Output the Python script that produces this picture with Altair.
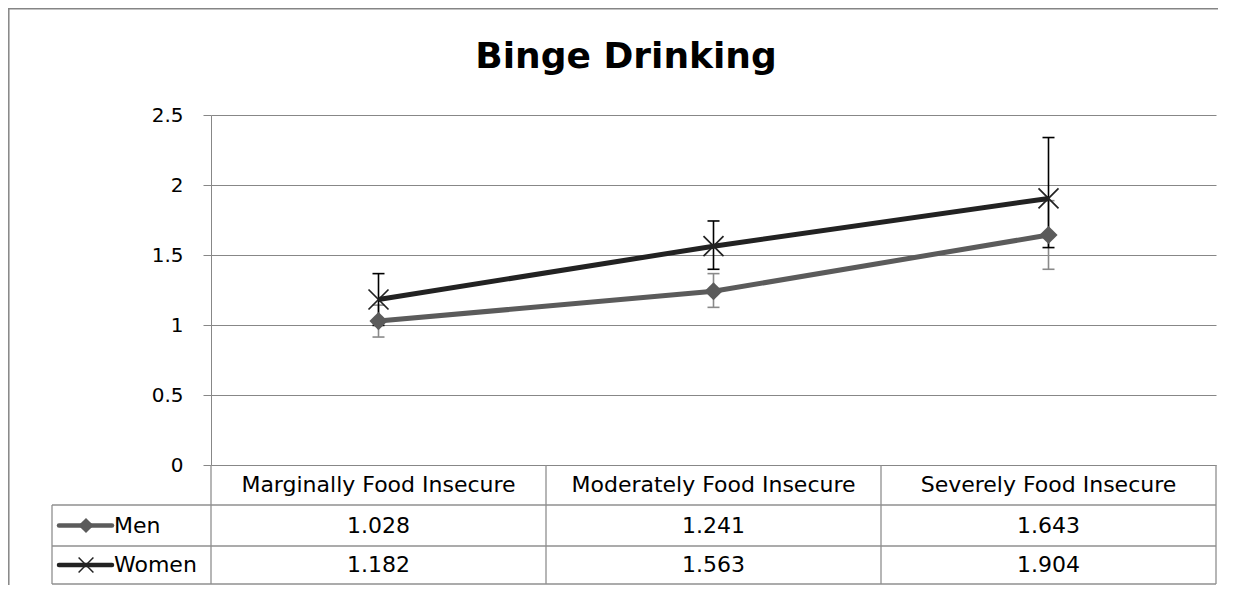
import altair as alt
import pandas as pd

# ---------------- data ----------------
title_text = "Binge Drinking"
categories = ["Marginally Food Insecure", "Moderately Food Insecure", "Severely Food Insecure"]
series = ["Men", "Women"]
men = [1.028, 1.241, 1.643]
women = [1.182, 1.563, 1.904]
men_lo = [0.914, 1.126, 1.398]
men_hi = [1.142, 1.367, 1.888]
women_lo = [0.997, 1.398, 1.553]
women_hi = [1.367, 1.743, 2.339]
y_ticks = [0, 0.5, 1, 1.5, 2, 2.5]

rows = []
for s, vals, lo, hi in [("Men", men, men_lo, men_hi), ("Women", women, women_lo, women_hi)]:
    for c, v, l, h in zip(categories, vals, lo, hi):
        rows.append({"category": c, "series": s, "value": v, "lo": l, "hi": h})
df = pd.DataFrame(rows)
cat_df = pd.DataFrame({"category": categories})
one = pd.DataFrame({"k": [0]})

# ---------------- layout / style ----------------
W, H = 1005, 350
FONT = "DejaVu Sans"
GRID = "#878787"
TABLE = "#8f8f8f"
MEN_LINE = "#5b5b5b"
WOMEN_LINE = "#222222"
MEN_ERR = "#8a8a8a"
WOMEN_ERR = "#000000"
X_PATH = "M-1,-1L1,1M-1,1L1,-1"
TFS = 22

HDR_TOP, ROW1, ROW2, TBL_BOT = H, H + 40, H + 81, H + 119
HDR_MID = (HDR_TOP + ROW1) / 2
MEN_MID = (ROW1 + ROW2) / 2
WOMEN_MID = (ROW2 + TBL_BOT) / 2
LEG_LEFT = -159

xscale = alt.Scale(type="band", domain=categories, paddingInner=0, paddingOuter=0)
yscale = alt.Scale(domain=[0, 2.5], nice=False, zero=True)
yaxis = alt.Axis(values=y_ticks, format="~g", title=None, grid=True, gridColor=GRID,
                 gridWidth=1, domainColor=GRID, domainWidth=1, tickColor=GRID, tickSize=8,
                 tickWidth=1, labelPadding=20, labelFont=FONT, labelFontSize=20,
                 labelColor="#000000")
X = alt.X("category:N", scale=xscale, axis=None, sort=categories)

base = alt.Chart(df)
layers = []

# y axis + grid carrier (invisible)
layers.append(base.mark_point(opacity=0).encode(x=X, y=alt.Y("value:Q", scale=yscale, axis=yaxis)))

# error bars
for s, col in [("Men", MEN_ERR), ("Women", WOMEN_ERR)]:
    b = base.transform_filter(alt.datum.series == s)
    layers.append(b.mark_rule(color=col, strokeWidth=1.6).encode(
        x=X, y=alt.Y("lo:Q", scale=yscale, axis=yaxis), y2="hi:Q"))
    for f in ["lo", "hi"]:
        layers.append(b.mark_tick(color=col, size=12, thickness=1.6, opacity=1).encode(
            x=X, y=alt.Y(f"{f}:Q", scale=yscale, axis=yaxis)))

# lines
for s, col in [("Men", MEN_LINE), ("Women", WOMEN_LINE)]:
    b = base.transform_filter(alt.datum.series == s)
    layers.append(b.mark_line(color=col, strokeWidth=5).encode(
        x=X, y=alt.Y("value:Q", scale=yscale, axis=yaxis)))

# markers
layers.append(base.transform_filter(alt.datum.series == "Men").mark_point(
    shape="diamond", filled=True, color=MEN_LINE, size=330, opacity=1).encode(
    x=X, y=alt.Y("value:Q", scale=yscale, axis=yaxis)))
layers.append(base.transform_filter(alt.datum.series == "Women").mark_point(
    shape=X_PATH, filled=False, color=WOMEN_LINE, strokeWidth=1.7, size=400, opacity=1).encode(
    x=X, y=alt.Y("value:Q", scale=yscale, axis=yaxis)))

# ---------------- data table ----------------
one_c = alt.Chart(one)
# horizontal table lines
for yy in [ROW1, ROW2, TBL_BOT]:
    layers.append(one_c.mark_rule(color=TABLE, strokeWidth=1.3).encode(
        x=alt.value(LEG_LEFT), x2=alt.value(W), y=alt.value(yy)))
# vertical table lines at column boundaries (from the x scale)
layers.append(alt.Chart(cat_df).mark_rule(color=TABLE, strokeWidth=1.3).encode(
    x=alt.X("category:N", scale=xscale, axis=None, sort=categories, bandPosition=0),
    y=alt.value(HDR_TOP), y2=alt.value(TBL_BOT)))
layers.append(one_c.mark_rule(color=TABLE, strokeWidth=1.3).encode(
    x=alt.value(W), y=alt.value(HDR_TOP), y2=alt.value(TBL_BOT)))
layers.append(one_c.mark_rule(color=TABLE, strokeWidth=1.3).encode(
    x=alt.value(LEG_LEFT), y=alt.value(ROW1), y2=alt.value(TBL_BOT)))

# header
layers.append(alt.Chart(cat_df).mark_text(font=FONT, fontSize=TFS, color="#000000",
                                          baseline="middle", align="center").encode(
    x=alt.X("category:N", scale=xscale, axis=None, sort=categories),
    y=alt.value(HDR_MID), text="category:N"))

# value rows
for s, ymid in [("Men", MEN_MID), ("Women", WOMEN_MID)]:
    layers.append(base.transform_filter(alt.datum.series == s).mark_text(
        font=FONT, fontSize=TFS, color="#000000", baseline="middle", align="center").encode(
        x=X, y=alt.value(ymid), text=alt.Text("value:Q", format=".3f")))

# legend keys inside table
row_df = pd.DataFrame({"series": series})
for s, ymid, col in [("Men", MEN_MID, MEN_LINE), ("Women", WOMEN_MID, WOMEN_LINE)]:
    rc = alt.Chart(row_df).transform_filter(alt.datum.series == s)
    layers.append(rc.mark_rule(color=col, strokeWidth=4.5, strokeCap="round").encode(
        x=alt.value(-152), x2=alt.value(-99), y=alt.value(ymid)))
    layers.append(rc.mark_text(font=FONT, fontSize=TFS, color="#000000", baseline="middle",
                               align="left").encode(
        x=alt.value(-97), y=alt.value(ymid), text="series:N"))
layers.append(alt.Chart(row_df).transform_filter(alt.datum.series == "Men").mark_point(
    shape="diamond", filled=True, color=MEN_LINE, size=230, opacity=1).encode(
    x=alt.value(-125), y=alt.value(MEN_MID)))
layers.append(alt.Chart(row_df).transform_filter(alt.datum.series == "Women").mark_point(
    shape=X_PATH, filled=False, color=WOMEN_LINE, strokeWidth=1.5, size=220, opacity=1).encode(
    x=alt.value(-125), y=alt.value(WOMEN_MID)))

# outer chart border (left and top edges)
layers.append(one_c.mark_rule(color="#858585", strokeWidth=1.5).encode(
    x=alt.value(-202.2), y=alt.value(-107), y2=alt.value(H + 120)))
layers.append(one_c.mark_rule(color="#858585", strokeWidth=1.5).encode(
    x=alt.value(-203), x2=alt.value(W + 2), y=alt.value(-106.2)))

# title
layers.append(one_c.mark_text(font=FONT, fontSize=36, fontWeight="bold", color="#000000",
                              align="center", baseline="alphabetic").encode(
    x=alt.value(415), y=alt.value(-47), text=alt.value(title_text)))

chart = alt.layer(*layers).properties(
    width=W, height=H,
    padding={"left": 203, "top": 107, "right": 2, "bottom": 120},
    autosize=alt.AutoSizeParams(type="none"),
    background="#ffffff",
).configure_view(stroke=None)

chart.save("out.html", embed_options={"renderer": "svg", "actions": False})
